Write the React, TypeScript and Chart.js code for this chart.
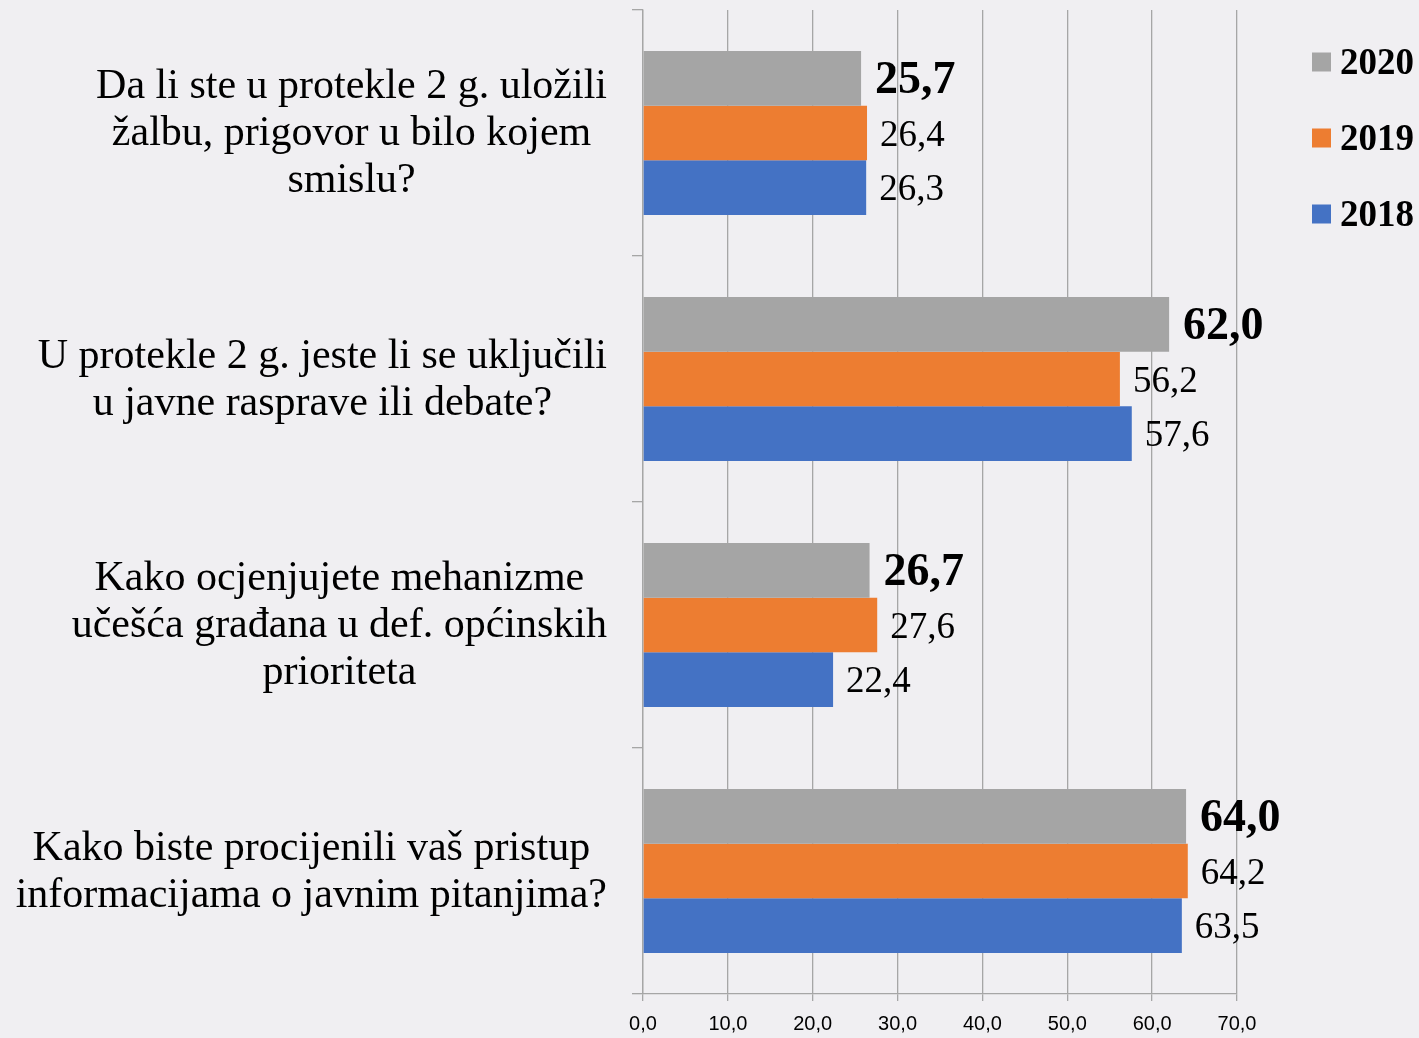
import React, { useEffect, useRef } from "react";
import { Chart, registerables } from "chart.js";

Chart.register(...registerables);

const categories: string[][] = [
  ["Da li ste u protekle 2 g. uložili", "žalbu, prigovor u bilo kojem", "smislu?"],
  ["U protekle 2 g. jeste li se uključili", "u javne rasprave ili debate?"],
  ["Kako ocjenjujete mehanizme", "učešća građana u def. općinskih", "prioriteta"],
  ["Kako biste procijenili vaš pristup", "informacijama o javnim pitanjima?"],
];

const seriesLabels = ["2020", "2019", "2018"];
const values2020 = [25.7, 62.0, 26.7, 64.0];
const values2019 = [26.4, 56.2, 27.6, 64.2];
const values2018 = [26.3, 57.6, 22.4, 63.5];
const seriesColors = ["#A5A5A5", "#ED7D31", "#4472C4"];
const xTicks = [0, 10, 20, 30, 40, 50, 60, 70];

const BG = "#F0EFF2";
const GRID = "#A6A6A6";
const SERIF = "'Liberation Serif', 'Times New Roman', serif";
const SANS = "'Liberation Sans', Arial, sans-serif";

const fmt = (v: number) => v.toFixed(1).replace(".", ",");

const bgPlugin = {
  id: "bg",
  beforeDraw(chart: any) {
    const { ctx, width, height } = chart;
    ctx.save();
    ctx.fillStyle = BG;
    ctx.fillRect(0, 0, width, height);
    ctx.restore();
  },
};

const categoryLabelPlugin = {
  id: "catLabels",
  afterDraw(chart: any) {
    const { ctx } = chart;
    const yScale = chart.scales.y;
    const rightEdge = yScale.right - 36;
    const lineH = 47;
    ctx.save();
    ctx.font = `42px ${SERIF}`;
    ctx.fillStyle = "#000";
    ctx.textBaseline = "middle";
    ctx.textAlign = "center";
    categories.forEach((lines, i) => {
      const cy = yScale.getPixelForValue(i);
      const widest = Math.max(...lines.map((l) => ctx.measureText(l).width));
      const cx = rightEdge - widest / 2;
      const startY = cy - ((lines.length - 1) * lineH) / 2;
      lines.forEach((l, j) => ctx.fillText(l, cx, startY + j * lineH + 1));
    });
    ctx.restore();
  },
};

const valueLabelPlugin = {
  id: "valLabels",
  afterDatasetsDraw(chart: any) {
    const { ctx } = chart;
    ctx.save();
    ctx.fillStyle = "#000";
    ctx.textBaseline = "middle";
    ctx.textAlign = "left";
    chart.data.datasets.forEach((ds: any, di: number) => {
      const meta = chart.getDatasetMeta(di);
      ctx.font = di === 0 ? `bold 46px ${SERIF}` : `37px ${SERIF}`;
      meta.data.forEach((bar: any, i: number) => {
        ctx.fillText(fmt(ds.data[i]), bar.x + (di === 0 ? 14 : 13), bar.y + 3);
      });
    });
    ctx.restore();
  },
};

const legendPlugin = {
  id: "customLegend",
  afterDraw(chart: any) {
    const { ctx, chartArea } = chart;
    const boxX = chartArea.right + 75;
    const box = 19;
    ctx.save();
    ctx.font = `bold 37px ${SERIF}`;
    ctx.textBaseline = "middle";
    ctx.textAlign = "left";
    chart.data.datasets.forEach((ds: any, i: number) => {
      const cy = chartArea.top + 52 + i * 76;
      ctx.fillStyle = ds.backgroundColor;
      ctx.fillRect(boxX, cy - box / 2, box, box);
      ctx.fillStyle = "#000";
      ctx.fillText(ds.label, boxX + box + 9, cy + 2);
    });
    ctx.restore();
  },
};

export default function App() {
  const ref = useRef<HTMLCanvasElement | null>(null);
  useEffect(() => {
    if (!ref.current) return;
    const chart = new Chart(ref.current, {
      type: "bar",
      data: {
        labels: categories.map((c) => c.join(" ")),
        datasets: [
          { label: seriesLabels[0], data: values2020, backgroundColor: seriesColors[0] },
          { label: seriesLabels[1], data: values2019, backgroundColor: seriesColors[1] },
          { label: seriesLabels[2], data: values2018, backgroundColor: seriesColors[2] },
        ],
      },
      options: {
        indexAxis: "y",
        animation: false,
        responsive: false,
        maintainAspectRatio: false,
        devicePixelRatio: 1,
        layout: { padding: { top: 10, right: 182, left: 0, bottom: 0 } },
        datasets: { bar: { categoryPercentage: 0.667, barPercentage: 1 } },
        plugins: { legend: { display: false }, tooltip: { enabled: false } },
        scales: {
          x: {
            min: 0,
            max: 70,
            afterBuildTicks: (scale: any) => {
              scale.ticks = xTicks.map((v) => ({ value: v }));
            },
            afterFit: (scale: any) => {
              scale.height = 44;
            },
            ticks: {
              callback: (v: any) => fmt(Number(v)),
              color: "#000",
              font: { family: SANS, size: 20 },
              padding: 11,
              maxRotation: 0,
            },
            grid: { color: GRID, lineWidth: 1.3, tickLength: 7 },
            border: { color: GRID, width: 1.3 },
          },
          y: {
            afterFit: (scale: any) => {
              scale.width = 643;
            },
            ticks: { display: false },
            grid: { color: GRID, lineWidth: 1.3, drawOnChartArea: false, tickLength: 11, offset: true },
            border: { color: GRID, width: 1.3 },
          },
        },
      },
      plugins: [bgPlugin, categoryLabelPlugin, valueLabelPlugin, legendPlugin],
    } as any);
    return () => chart.destroy();
  }, []);
  return (
    <div style={{ position: "absolute", left: 0, top: 0, width: 1419, height: 1038 }}>
      <canvas ref={ref} width={1419} height={1038} style={{ display: "block" }} />
    </div>
  );
}
